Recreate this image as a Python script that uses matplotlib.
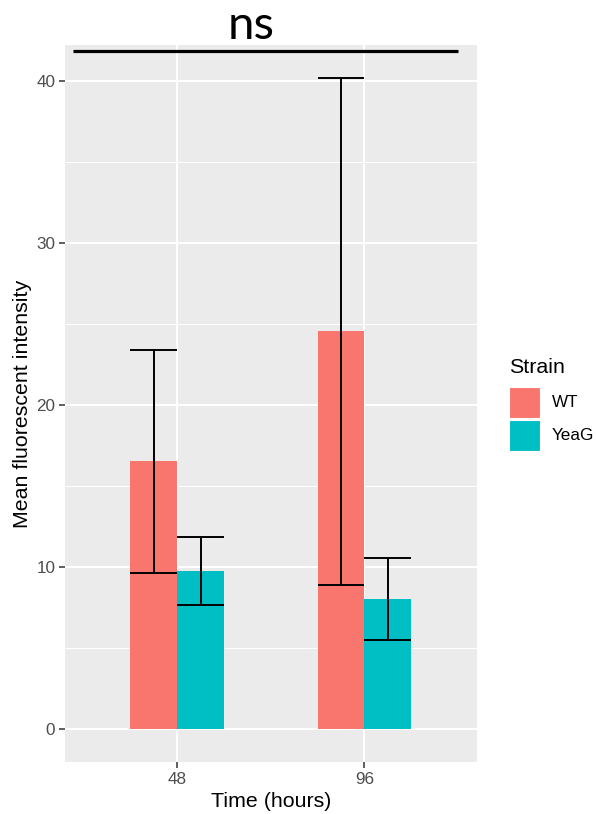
import numpy as np
import matplotlib.pyplot as plt
from matplotlib.patches import Rectangle

# data
times = ['48', '96']
strains = ['WT', 'YeaG']
wt_mean = [16.55, 24.58]
wt_err = [6.87, 15.65]
yeag_mean = [9.78, 8.06]
yeag_err = [2.12, 2.54]
colors = ['#F8766D', '#00BFC4']

plt.rcParams['font.family'] = ['Liberation Sans', 'DejaVu Sans']

fig = plt.figure(figsize=(5.96, 8.14), dpi=100)
ax = fig.add_axes([65 / 596, 1 - 762 / 814, 411.7 / 596, (762 - 45) / 814])
ax.set_facecolor('#EBEBEB')
for s in ax.spines.values():
    s.set_visible(False)

x = np.arange(1, len(times) + 1)
w = 0.25
means = [wt_mean, yeag_mean]
errs = [wt_err, yeag_err]

# grid
ax.set_yticks([0, 10, 20, 30, 40])
ax.set_yticks([5, 15, 25, 35], minor=True)
ax.set_xticks(x)
ax.set_xticklabels(times)
ax.grid(which='major', color='white', linewidth=1.5)
ax.grid(which='minor', axis='y', color='white', linewidth=0.75)
ax.set_axisbelow(True)

for i, (m, e) in enumerate(zip(means, errs)):
    pos = x + (i - 0.5) * w
    ax.bar(pos, m, width=w, color=colors[i], zorder=2)
    lo = np.array(m) - np.array(e)
    hi = np.array(m) + np.array(e)
    ax.vlines(pos, lo, hi, color='black', linewidth=1.4, zorder=3)
    ax.hlines(lo, pos - w / 2, pos + w / 2, color='black', linewidth=1.4, zorder=3)
    ax.hlines(hi, pos - w / 2, pos + w / 2, color='black', linewidth=1.4, zorder=3)

ax.set_xlim(0.4, 2.6)
ax.set_ylim(-2.01, 42.24)

ax.tick_params(which='major', length=4, width=1.1, color='#333333',
               labelcolor='#4D4D4D', labelsize=12.3, pad=3)
ax.tick_params(which='minor', length=0)

ax.set_xlabel('Time (hours)', fontsize=15.4, labelpad=4)
ax.set_ylabel('Mean fluorescent intensity', fontsize=15.4, labelpad=3)

# significance bar overlay
ax.plot([0.443, 2.498], [41.88, 41.88], color='black', linewidth=2.3,
        solid_capstyle='butt', clip_on=False, zorder=4)
fig.text(251.3 / 596, 1 - 39.3 / 814, 'ns', fontsize=34, family=['Lato', 'DejaVu Sans'],
         ha='center', va='baseline')

# legend
fig.text(509 / 596, 1 - 367 / 814, 'Strain', fontsize=15.4, ha='left', va='center')
for i, name in enumerate(strains):
    top = 387 + i * 33
    fig.patches.append(Rectangle((509 / 596, 1 - (top + 31) / 814), 31 / 596, 31 / 814,
                                 transform=fig.transFigure, facecolor=colors[i],
                                 edgecolor='white', linewidth=0.8))
    fig.text(551.7 / 596, 1 - (top + 15.5) / 814, name, fontsize=12.3, ha='left', va='center')

fig.savefig('out.png', dpi=100)
